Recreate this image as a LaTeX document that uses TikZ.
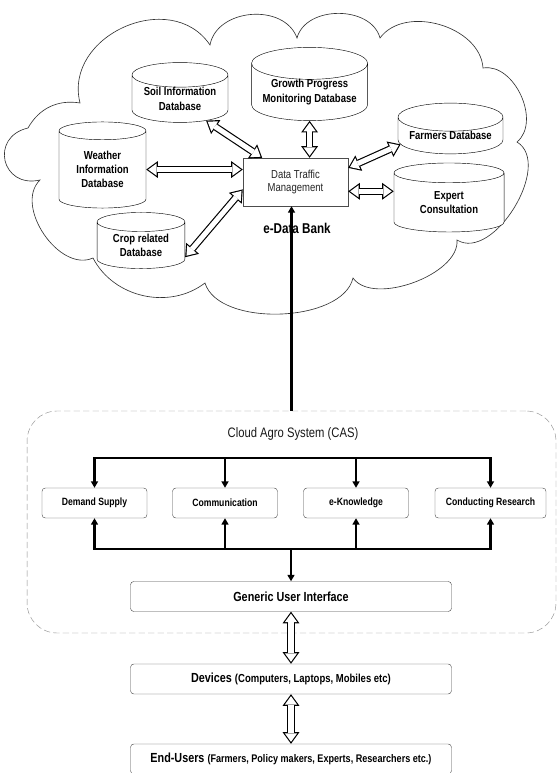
\documentclass[tikz,border=0pt]{standalone}
\usepackage{fontspec}
\setmainfont{Liberation Sans}
\newfontfamily\narrowsans[FakeStretch=0.82]{Liberation Sans}
\usetikzlibrary{shapes}
\usetikzlibrary{arrows, arrows.meta}
\usetikzlibrary{positioning}

\newcommand{\dblarrow}[2]{\draw[hollow] #1 -- #2; \draw[hollowin] #1 -- #2;}

\begin{document}
\begin{tikzpicture}[dbase/.style={cylinder, shape border rotate=90, draw, fill=white, aspect=0.34, inner sep=0pt,
			anchor=shape center, font=\narrowsans\bfseries\fontsize{11}{13.5}\selectfont},
			internal/.style={draw=black!70, rectangle, fill=white, rounded corners=0.6ex, inner sep=2pt},
			module/.style={internal, minimum width=3.5cm, minimum height=1cm, font=\narrowsans\bfseries\fontsize{10}{11}\selectfont},
			layer/.style={internal, minimum width=10.7cm, minimum height=1cm, font=\narrowsans\bfseries\fontsize{12.5}{14}\selectfont},
			hollow/.style={line width=7pt, {Triangle[length=11pt,width=16pt,line width=0pt]}-{Triangle[length=11pt,width=16pt,line width=0pt]}},
			hollowin/.style={white, line width=4.8pt, shorten <=1.87pt, shorten >=1.87pt,
				{Triangle[length=8.03pt,width=11.68pt,line width=0pt]}-{Triangle[length=8.03pt,width=11.68pt,line width=0pt]}},
			bus/.style={line width=2pt, >={Triangle[length=6pt,width=6.5pt]}},
			every text node part/.style={align=center}]
			\fill[white] (0,0) rectangle (18.567,-25.767);
			\useasboundingbox (0,0) rectangle (18.567,-25.767);
			
			\draw[black!80, line width=0.6pt, fill=white] (0.933,-4.267) to[bend left=35] (2.667,-3.433)
				to[bend left=80, looseness=1.25] (7.0,-1.5) to[bend left=75, looseness=1.1] (9.9,-1.267)
				to[bend left=75, looseness=1.05] (12.667,-1.267) to[bend left=70] (16.1,-2.267)
				to[bend left=75, looseness=1.0] (17.233,-4.733) to[bend left=90, looseness=0.95] (15.233,-8.0)
				to[bend left=75, looseness=0.8] (11.767,-9.267) to[bend left=75, looseness=0.8] (6.833,-9.433)
				to[bend left=50] (3.1,-8.6) to[bend left=80, looseness=1.0] (1.333,-6.0)
				to[bend left=90, looseness=1.9] (0.933,-4.267) -- cycle;
			
			\node[draw=black!70, fill=white, minimum width=3.5cm, minimum height=1.6cm, text=black!85,
				font=\narrowsans\fontsize{11}{13}\selectfont](traffic) at (9.85, -6.067) {Data Traffic \\ Management};
			\node[font=\narrowsans\bfseries\fontsize{13.5}{15}\selectfont](bank) at (9.9, -7.6) {e-Data Bank};
			
			\node[dbase, minimum width=3.87cm, minimum height=1.93cm](growth) at (10.32, -2.8) {Growth Progress \\ Monitoring Database};
			\node[dbase, minimum width=3.2cm, minimum height=1.97cm](soil) at (6.0, -3.083) {Soil Information \\ Database};
			\node[dbase, minimum width=2.9cm, minimum height=2.87cm](weather) at (3.417, -5.5) {Weather \\ Information \\ Database};
			\node[dbase, minimum width=2.93cm, minimum height=1.87cm](crop) at (4.7, -8.017) {Crop related \\ Database};
			\node[dbase, minimum width=3.5cm, minimum height=1.57cm](farmers) at (15.017, -4.283) {Farmers Database};
			\node[dbase, minimum width=3.67cm, minimum height=2.3cm](expert) at (14.967, -6.583) {Expert \\ Consultation};
			
			\dblarrow{(weather.0)}{(weather.0 -| traffic.west)}
			\dblarrow{(soil.-40)}{(traffic.144)}
			\dblarrow{(growth.270)}{(growth.270 |- traffic.north)}
			\dblarrow{(traffic.15)}{(farmers.190)}
			\dblarrow{(traffic.-10)}{(traffic.-10 -| expert.180)}
			\dblarrow{(crop.-15)}{(traffic.188)}
			
			\node[draw=black!45, dash pattern=on 6pt off 3pt, rounded corners=1cm, minimum width=17.63cm,
				minimum height=7.4cm](cas) at (9.717, -17.4) {};
			\draw[bus, ->] (cas.north) -- (cas.north |- traffic.south);
			\node[text=black!90, font=\narrowsans\fontsize{13}{15}\selectfont](title) at (9.767, -14.467) {Cloud Agro System (CAS)};
			
			\node[module](demand) at (3.15, -16.767) {Demand Supply};
			\node[module](comm) at (7.5, -16.767) {Communication};
			\node[module](eknow) at (11.867, -16.767) {e-Knowledge};
			\node[module, minimum width=3.7cm](research) at (16.35, -16.767) {Conducting Research};
			
			\node[layer](gui) at (9.7, -19.883) {Generic User Interface};
			\node[layer](devices) at (9.7, -22.633) {Devices {\fontsize{11}{12}\selectfont(Computers, Laptops, Mobiles etc)}};
			\node[layer](users) at (9.7, -25.3) {End-Users {\fontsize{10.5}{12}\selectfont(Farmers, Policy makers, Experts, Researchers etc.)}};
			
			\coordinate (bustop) at (9.7, -15.267);
			\coordinate (busbot) at (9.7, -18.3);
			\draw[bus, <->] (demand.north) |- (bustop) -| (research.north);
			\draw[bus, ->] (comm.north |- bustop) -- (comm.north);
			\draw[bus, ->] (eknow.north |- bustop) -- (eknow.north);
			\draw[bus, <->] (demand.south) |- (busbot) -| (research.south);
			\draw[bus, ->] (comm.south |- busbot) -- (comm.south);
			\draw[bus, ->] (eknow.south |- busbot) -- (eknow.south);
			\draw[bus, ->] (busbot) -- (gui.north);
			
			\dblarrow{(gui.south)}{(devices.north)}
			\dblarrow{(devices.south)}{(users.north)}
			\end{tikzpicture}
\end{document}
